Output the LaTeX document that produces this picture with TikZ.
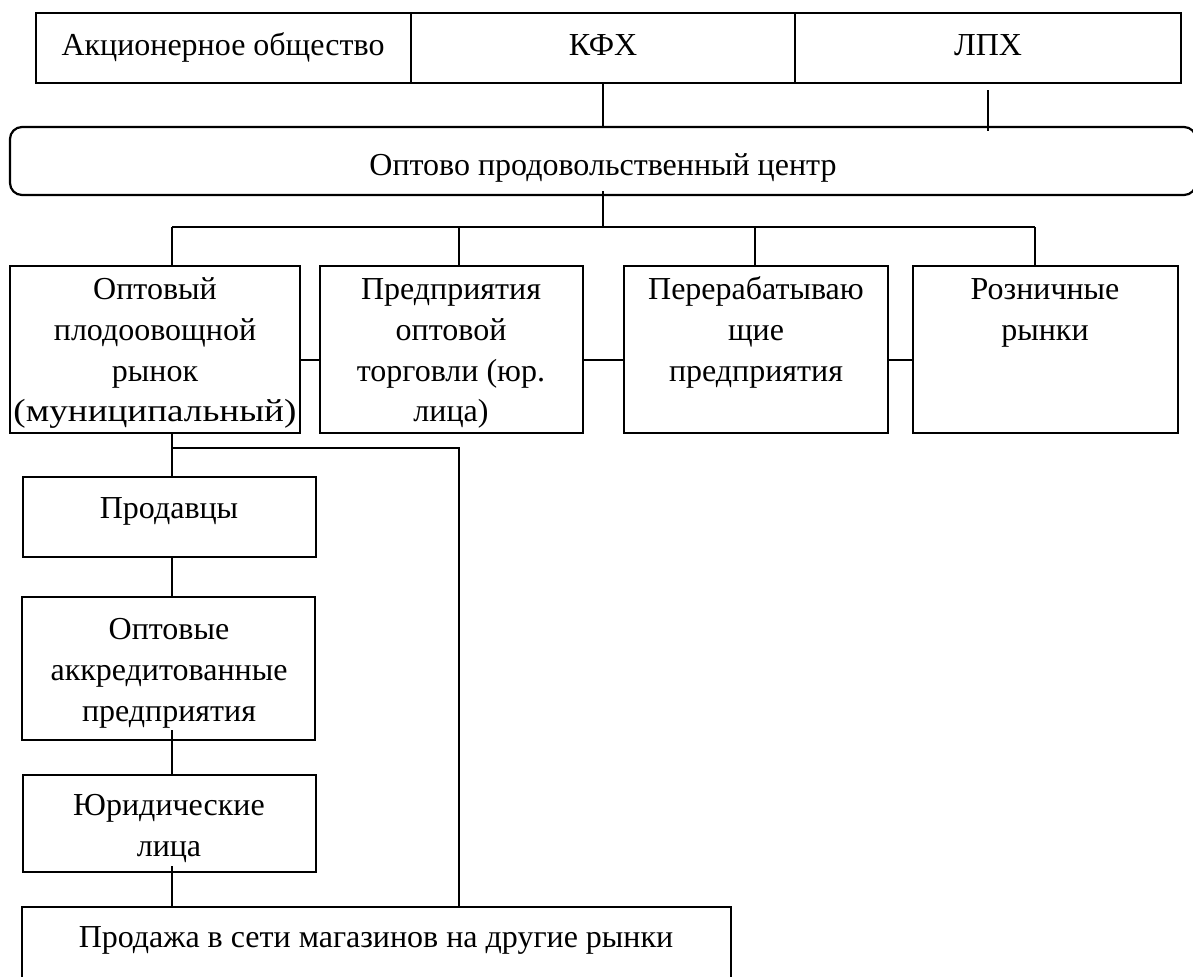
\documentclass[tikz,border=0pt]{standalone}
\usepackage{fontspec}
\setmainfont{Liberation Serif}
\newfontfamily\widefont[FakeStretch=1.16]{Liberation Serif}
\usetikzlibrary{fit,calc}
\newcommand{\myfl}{\rule{0pt}{14pt}}
\begin{document}
\begin{tikzpicture}[x=0.5pt,y=-0.5pt,
  box/.style={draw, line width=1.1pt, inner sep=0pt, rectangle},
  rbox/.style={box, rounded corners=6pt},
  txt/.style={inner sep=0pt, anchor=north, align=center, font=\fontsize{16}{20.4}\selectfont},
  conn/.style={line width=0.65pt}]
\useasboundingbox (0,0) rectangle (1193,976);
% top row
\node[box, fit={(36,13) (411,83)}] (ao) {};
\node[box, fit={(411,13) (795,83)}] (kfh) {};
\node[box, fit={(795,13) (1181,83)}] (lph) {};
\node[txt] (tao) at (223,27) {\myfl Акционерное общество};
\node[txt] (tkfh) at (603,27) {\myfl КФХ};
\node[txt] (tlph) at (988,27) {\myfl ЛПХ};
% centre
\node[rbox, fit={(10,127) (1196,195)}] (opc) {};
\node[txt] (topc) at (603,147) {\myfl Оптово продовольственный центр};
% second row
\node[box, fit={(10,266) (300,433)}] (b1) {};
\node[box, fit={(320,266) (583,433)}] (b2) {};
\node[box, fit={(624,266) (888,433)}] (b3) {};
\node[box, fit={(913,266) (1178,433)}] (b4) {};
\node[txt] (tb1) at (155,271) {\myfl Оптовый\\плодоовощной\\рынок\\{\widefont(муниципальный)}};
\node[txt] (tb2) at (451,271) {\myfl Предприятия\\оптовой\\торговли (юр.\\лица)};
\node[txt] (tb3) at (756,271) {\myfl Перерабатываю\\щие\\предприятия};
\node[txt] (tb4) at (1045,271) {\myfl Розничные\\рынки};
% left column
\node[box, fit={(23,477) (316,557)}] (prod) {};
\node[box, fit={(22,597) (315,740)}] (opt) {};
\node[box, fit={(23,775) (316,872)}] (yur) {};
\node[box, fit={(22,907) (731,990)}] (sale) {};
\node[txt] (tprod) at (169,490) {\myfl Продавцы};
\node[txt] (topt) at (169,611) {\myfl Оптовые\\аккредитованные\\предприятия};
\node[txt] (tyur) at (169,787) {\myfl Юридические\\лица};
\node[txt] (tsale) at (376,919) {\myfl Продажа в сети магазинов на другие рынки};
% connectors
\coordinate (bus) at (603,227);
\coordinate (d1) at (172,227);
\coordinate (d2) at (459,227);
\coordinate (d3) at (755,227);
\coordinate (d4) at (1035,227);
\coordinate (rl) at (0,360);
\coordinate (lc) at (172,448);
\coordinate (rc) at (459,448);
\draw[conn] (kfh.south) -- (kfh.south |- opc.north);
\draw[conn] ($(lph.south)+(0,6)$) -- ($(lph.south |- opc.north)+(0,5)$);
\draw[conn] ($(bus |- opc.south)+(0,-5)$) -- (bus);
\draw[conn] (d1) -- (d4);
\draw[conn] (d1) -- (d1 |- b1.north);
\draw[conn] (d2) -- (d2 |- b2.north);
\draw[conn] (d3) -- (d3 |- b3.north);
\draw[conn] (d4) -- (d4 |- b4.north);
\draw[conn] (b1.east |- rl) -- (b2.west |- rl);
\draw[conn] (b2.east |- rl) -- (b3.west |- rl);
\draw[conn] (b3.east |- rl) -- (b4.west |- rl);
\draw[conn] (lc |- b1.south) -- (lc |- prod.north);
\draw[conn] (lc) -- (rc) -- (rc |- sale.north);
\draw[conn] (lc |- prod.south) -- (lc |- opt.north);
\draw[conn] ($(lc |- opt.south)+(0,-11)$) -- (lc |- yur.north);
\draw[conn] ($(lc |- yur.south)+(0,-7)$) -- (lc |- sale.north);
\end{tikzpicture}
\end{document}
